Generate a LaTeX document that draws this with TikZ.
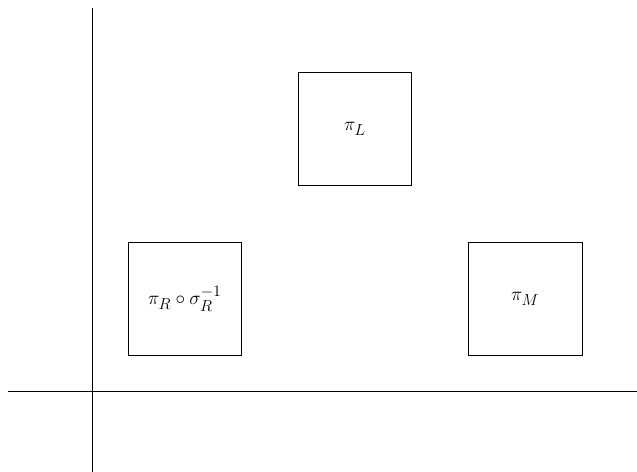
\documentclass[tikz,border=0pt]{standalone}
\DeclareMathSizes{14.4}{14.4}{12}{10}
\begin{document}
\begin{tikzpicture}[box/.style={draw, minimum size=3cm, inner sep=0pt, font=\Large}]
    %% frame
    \useasboundingbox (-2.45,-2.14) rectangle (14.40,10.34);
    %% axes
    \draw (-2.24,0) -- (14.40,0);
    \draw (0,-2.14) -- (0,10.12);
    %% pieces
    \node[box] (piL) at (6.94,6.93) {$\pi_L$};
    \node[box] (piR) at (2.44,2.43) {$\pi_R \circ \sigma_R^{-1}$};
    \node[box] (piM) at (11.44,2.43) {$\pi_M$};
\end{tikzpicture}
\end{document}
